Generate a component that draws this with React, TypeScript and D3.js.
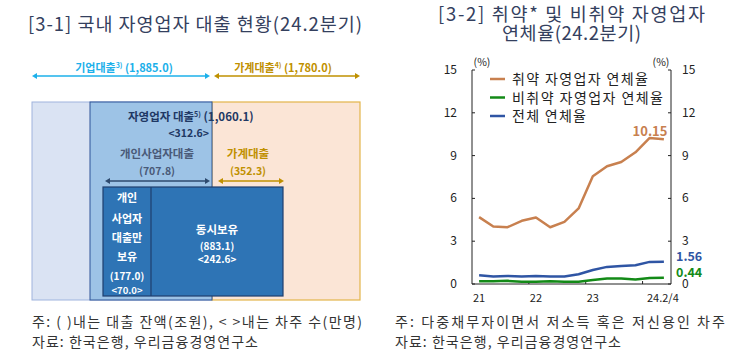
import React from 'react';
import * as d3 from 'd3';

// right panel data: quarterly delinquency rates (%)
const quarters = [
  '21.1/4', '21.2/4', '21.3/4', '21.4/4',
  '22.1/4', '22.2/4', '22.3/4', '22.4/4',
  '23.1/4', '23.2/4', '23.3/4', '23.4/4',
  '24.1/4', '24.2/4',
];
const vulnerableRate = [4.69, 4.03, 3.98, 4.43, 4.66, 3.98, 4.36, 5.3, 7.55, 8.25, 8.55, 9.23, 10.24, 10.15];
const nonVulnerableRate = [0.19, 0.19, 0.22, 0.16, 0.16, 0.19, 0.16, 0.16, 0.28, 0.38, 0.38, 0.31, 0.42, 0.44];
const totalRate = [0.61, 0.52, 0.56, 0.52, 0.56, 0.52, 0.52, 0.68, 0.98, 1.2, 1.27, 1.31, 1.55, 1.56];
const seriesNames = ['취약 자영업자 연체율', '비취약 자영업자 연체율', '전체 연체율'];
const seriesColors = ['#c8804f', '#138a17', '#2f55a4'];
const yTicks = [0, 3, 6, 9, 12, 15];
const xTickLabels: Record<string, string> = { '21.1/4': '21', '22.1/4': '22', '23.1/4': '23', '24.2/4': '24.2/4' };
const yearStarts = ['22.1/4', '23.1/4', '24.1/4'];

// left panel data: loan balances (조원) and borrowers (만명)
const corpLoan = '1,885.0';
const householdLoan = '1,780.0';
const selfEmployedLoan = '1,060.1';
const selfEmployedBorrowers = '312.6';
const bizOwnerLoan = '707.8';
const bizHouseholdLoan = '352.3';
const bizOnly = ['177.0', '70.0'];
const bothHeld = ['883.1', '242.6'];

const FONT = '"Noto Sans CJK KR", "Noto Sans", sans-serif';
const TITLE = '#34405e';
const NOTE = '#333';

const Arrow: React.FC<{ x1: number; x2: number; y: number; color: string }> = ({ x1, x2, y, color }) => (
  <g>
    <line x1={x1 + 3} x2={x2 - 3} y1={y} y2={y} stroke={color} strokeWidth={1.6} />
    <path d={`M${x1},${y} l5,-3 v6 z`} fill={color} />
    <path d={`M${x2},${y} l-5,-3 v6 z`} fill={color} />
  </g>
);

const LeftPanel: React.FC = () => (
  <g fontFamily={FONT}>
    <text x={28} y={31} fontSize={18.5} fill={TITLE} textLength={334} lengthAdjust="spacing">
      [3-1] 국내 자영업자 대출 현황(24.2분기)
    </text>

    <text x={124} y={72} fontSize={11} fontWeight="bold" fill="#1cb0ea" textAnchor="middle">
      기업대출<tspan fontSize={7} dy={-4}>3)</tspan><tspan dy={4}> ({corpLoan})</tspan>
    </text>
    <Arrow x1={32} x2={210} y={76} color="#1cb0ea" />
    <text x={283} y={72} fontSize={11} fontWeight="bold" fill="#bf9000" textAnchor="middle">
      가계대출<tspan fontSize={7} dy={-4}>4)</tspan><tspan dy={4}> ({householdLoan})</tspan>
    </text>
    <Arrow x1={214} x2={360} y={76} color="#bf9000" />

    <rect x={32} y={102} width={180} height={198} fill="#dae3f3" stroke="#9fb4de" strokeWidth={1} />
    <rect x={212} y={102} width={148} height={198} fill="#fbe5d6" stroke="#e3b44a" strokeWidth={1.2} />
    <rect x={90} y={102} width={122} height={198} fill="#9dc3e6" stroke="#2f5597" strokeWidth={1} />

    <text x={128} y={121} fontSize={11.5} fontWeight="bold" fill="#1f3864">
      자영업자 대출<tspan fontSize={7} dy={-4}>5)</tspan><tspan dy={4}> ({selfEmployedLoan})</tspan>
    </text>
    <text x={209} y={137} fontSize={10.5} fontWeight="bold" fill="#1f3864" textAnchor="end">{`<${selfEmployedBorrowers}>`}</text>

    <text x={157} y={158} fontSize={11.5} fontWeight="bold" fill="#4a5a78" textAnchor="middle">개인사업자대출</text>
    <text x={157} y={175} fontSize={10.5} fontWeight="bold" fill="#4a5a78" textAnchor="middle">({bizOwnerLoan})</text>
    <Arrow x1={105} x2={210} y={181} color="#2e4a6e" />

    <text x={248} y={158} fontSize={11.5} fontWeight="bold" fill="#c09000" textAnchor="middle">가계대출</text>
    <text x={248} y={175} fontSize={10.5} fontWeight="bold" fill="#c09000" textAnchor="middle">({bizHouseholdLoan})</text>
    <Arrow x1={218} x2={284} y={181} color="#c09000" />

    <rect x={103} y={187} width={180} height={109} fill="#2e74b5" stroke="#1f3f6e" strokeWidth={1.2} />
    <line x1={151} x2={151} y1={187} y2={296} stroke="#1f3f6e" strokeWidth={1.2} />

    <g fill="#ffffff" fontWeight="bold" textAnchor="middle">
      <text x={127} y={202} fontSize={11}>개인</text>
      <text x={127} y={223} fontSize={11}>사업자</text>
      <text x={127} y={242} fontSize={11}>대출만</text>
      <text x={127} y={261} fontSize={11}>보유</text>
      <text x={127} y={280} fontSize={10}>({bizOnly[0]})</text>
      <text x={127} y={294} fontSize={9.5}>{`<${bizOnly[1]}>`}</text>
      <text x={217} y={234} fontSize={11.5}>동시보유</text>
      <text x={217} y={250} fontSize={10}>({bothHeld[0]})</text>
      <text x={217} y={263} fontSize={10}>{`<${bothHeld[1]}>`}</text>
    </g>

    <text x={32} y={327} fontSize={14} fill={NOTE} textLength={330} lengthAdjust="spacing">
      주: (   )내는 대출 잔액(조원), &lt; &gt;내는 차주 수(만명)
    </text>
    <text x={32} y={347} fontSize={14} fill={NOTE} textLength={226} lengthAdjust="spacing">
      자료: 한국은행, 우리금융경영연구소
    </text>
  </g>
);

const RightPanel: React.FC = () => {
  const x = d3.scalePoint<string>().domain(quarters).range([472, 671]).padding(0.5);
  const y = d3.scaleLinear().domain([0, 15]).range([284, 70]);
  const step = x.step();
  const line = d3.line<number>()
    .x((_, i) => x(quarters[i]) as number)
    .y(d => y(d));
  const series = [vulnerableRate, nonVulnerableRate, totalRate];
  const [x0, x1] = x.range();
  const legendWidths = [136, 151, 74];

  return (
    <g fontFamily={FONT}>
      <text x={438} y={21} fontSize={18.5} fill={TITLE} textLength={267} lengthAdjust="spacing">
        [3-2] 취약* 및 비취약 자영업자
      </text>
      <text x={502} y={40} fontSize={18.5} fill={TITLE} textLength={139} lengthAdjust="spacing">
        연체율(24.2분기)
      </text>

      <text x={482} y={66} fontSize={10.5} fill="#222" textAnchor="middle">(%)</text>
      <text x={661} y={66} fontSize={10.5} fill="#222" textAnchor="middle">(%)</text>

      {/* axes */}
      <g stroke="#222" strokeWidth={1}>
        <line x1={x0} x2={x0} y1={y(15)} y2={y(0)} />
        <line x1={x1} x2={x1} y1={y(15)} y2={y(0)} />
        <line x1={x0} x2={x1} y1={y(0)} y2={y(0)} />
        {yTicks.map(t => (
          <g key={t}>
            <line x1={x0} x2={x0 + 3} y1={y(t)} y2={y(t)} />
            <line x1={x1 - 3} x2={x1} y1={y(t)} y2={y(t)} />
          </g>
        ))}
        {yearStarts.map(q => {
          const px = (x(q) as number) - step / 2;
          return <line key={q} x1={px} x2={px} y1={y(0)} y2={y(0) - 3} />;
        })}
      </g>
      <g fontSize={12} fill="#222">
        {yTicks.map(t => (
          <g key={t}>
            <text x={457} y={y(t) + 4} textAnchor="end">{t}</text>
            <text x={682} y={y(t) + 4}>{t}</text>
          </g>
        ))}
      </g>
      <g fontSize={11} fill="#222" textAnchor="middle">
        {quarters.filter(q => xTickLabels[q]).map(q => (
          <text key={q} x={(x(q) as number) + (q === '24.2/4' ? -1 : 0)} y={302}>{xTickLabels[q]}</text>
        ))}
      </g>

      {series.map((s, i) => (
        <path key={i} d={line(s) ?? ''} fill="none" stroke={seriesColors[i]} strokeWidth={2.5} strokeLinejoin="round" />
      ))}

      {/* legend */}
      {seriesNames.map((n, i) => (
        <g key={n}>
          <line x1={490} x2={505} y1={79 + i * 18.5} y2={79 + i * 18.5} stroke={seriesColors[i]} strokeWidth={2.5} />
          <text x={512} y={79 + i * 18.5 + 5} fontSize={14} fill="#222" textLength={legendWidths[i]} lengthAdjust="spacing">{n}</text>
        </g>
      ))}

      <text x={650} y={136} fontSize={13} fontWeight="bold" fill={seriesColors[0]} textAnchor="middle">
        {vulnerableRate[vulnerableRate.length - 1].toFixed(2)}
      </text>
      <text x={676} y={261} fontSize={12.5} fontWeight="bold" fill={seriesColors[2]}>
        {totalRate[totalRate.length - 1].toFixed(2)}
      </text>
      <text x={676} y={277} fontSize={12.5} fontWeight="bold" fill={seriesColors[1]}>
        {nonVulnerableRate[nonVulnerableRate.length - 1].toFixed(2)}
      </text>

      <text x={395} y={327} fontSize={14} fill={NOTE} textLength={330} lengthAdjust="spacing">
        주: 다중채무자이면서 저소득 혹은 저신용인 차주
      </text>
      <text x={395} y={347} fontSize={14} fill={NOTE} textLength={226} lengthAdjust="spacing">
        자료: 한국은행, 우리금융경영연구소
      </text>
    </g>
  );
};

export default function App() {
  return (
    <svg width={738} height={362} style={{ display: 'block', position: 'absolute', left: 0, top: 0, background: '#fff' }}>
      <rect width={738} height={362} fill="#fff" />
      <LeftPanel />
      <RightPanel />
    </svg>
  );
}
